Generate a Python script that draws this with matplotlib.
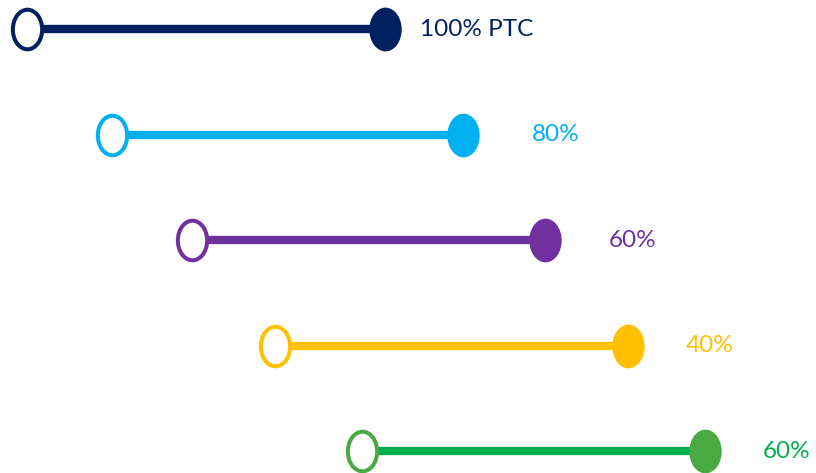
import matplotlib
matplotlib.use("Agg")
import matplotlib.pyplot as plt
from matplotlib.path import Path
from matplotlib.transforms import Affine2D

labels = ["100% PTC", "80%", "60%", "40%", "60%"]
starts = [27, 112, 192, 275, 362]
ends = [385, 463, 545, 628, 705]
label_x = [420, 532, 609, 686, 763]
line_colors = ["#002060", "#00B0F0", "#7030A0", "#FFC000", "#00B050"]
marker_colors = ["#002060", "#00B0F0", "#7030A0", "#FFC000", "#4AAA42"]
text_colors = ["#002060", "#00B0F0", "#7030A0", "#FFC000", "#00B050"]

ellipse = Path.unit_circle().transformed(Affine2D().scale(0.74, 1.0))

fig = plt.figure(figsize=(8.16, 4.73), dpi=100)
ax = fig.add_axes([0, 0, 1, 1])
ax.set_xlim(0, 816)
ax.set_ylim(4.2085, -0.275)
ax.axis("off")

for i, (s, e) in enumerate(zip(starts, ends)):
    ax.plot([s, e], [i, i], color=line_colors[i], lw=6.0, solid_capstyle="butt", zorder=1)
    ax.plot([e], [i], marker=ellipse, markersize=31.5, color=marker_colors[i],
            markeredgewidth=0, linestyle="none", zorder=3)
    ax.plot([s], [i], marker=ellipse, markersize=28.5, markerfacecolor="white",
            markeredgecolor=marker_colors[i], markeredgewidth=2.9, linestyle="none", zorder=3)
    ax.text(label_x[i], i, labels[i], color=text_colors[i], fontsize=17.5,
            family=["Lato", "DejaVu Sans"], va="center", ha="left")

fig.savefig("out.png", dpi=100)
